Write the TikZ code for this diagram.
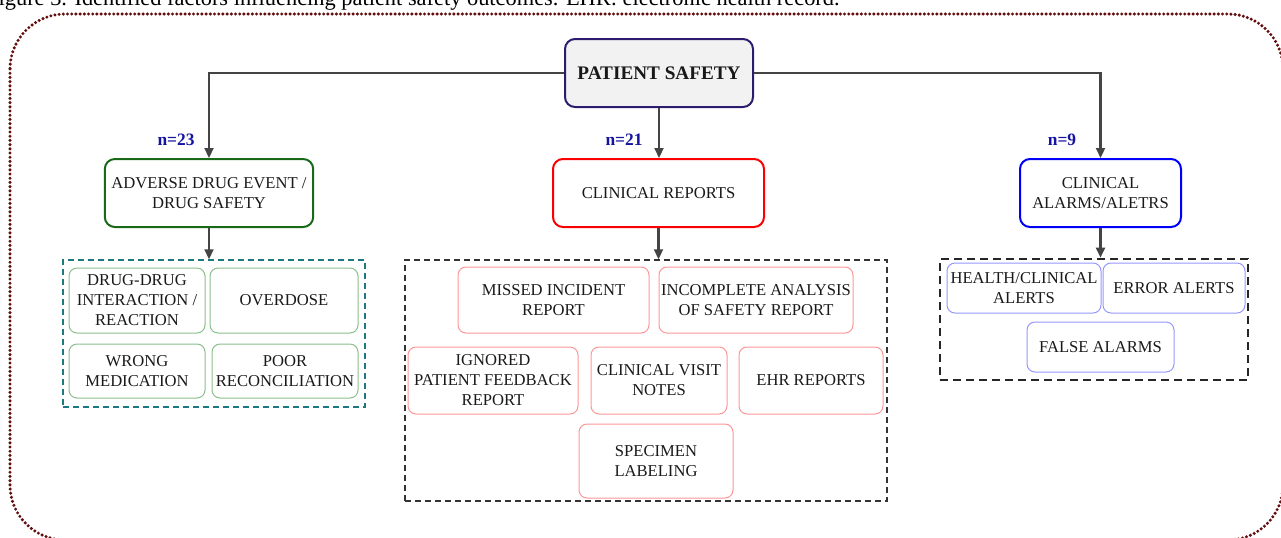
\documentclass[tikz,border=0pt]{standalone}
\usepackage{fontspec}
\setmainfont{Liberation Serif}
\usetikzlibrary{arrows.meta,positioning}

\definecolor{framered}{RGB}{100,15,15}
\definecolor{topline}{RGB}{45,28,110}
\definecolor{topfill}{RGB}{242,242,242}
\definecolor{adegreen}{RGB}{25,105,25}
\definecolor{adelight}{RGB}{140,190,140}
\definecolor{crred}{RGB}{250,0,0}
\definecolor{crlight}{RGB}{255,150,150}
\definecolor{cablue}{RGB}{0,0,250}
\definecolor{calight}{RGB}{150,150,255}
\definecolor{grpteal}{RGB}{30,120,130}
\definecolor{nlabel}{RGB}{20,20,160}
\definecolor{arrowgray}{RGB}{68,68,68}

\begin{document}
\begin{tikzpicture}[x=0.5pt,y=-0.5pt,
  lbl/.style={font=\fontsize{8.3}{10}\selectfont, align=center, text=black!90},
  catbox/.style={lbl, draw, line width=1pt, rounded corners=5pt, minimum height=34pt},
  item/.style={lbl, draw, line width=0.5pt, rounded corners=4pt, inner sep=1pt},
  grp/.style={draw, line width=0.75pt, dash pattern=on 3pt off 2pt},
  count/.style={font=\fontsize{8.7}{10}\selectfont\bfseries, text=nlabel},
  arr/.style={draw=arrowgray, line width=1.1pt, -{Triangle[length=5pt,width=4.5pt]}}]
  \useasboundingbox (0,0) rectangle (1281,537);

  % frame and caption
  \draw[framered, line width=1.7pt, dash pattern=on 0pt off 2.1pt, line cap=round,
    rounded corners=27.5pt] (10,14) rectangle (1283,540);
  \node[anchor=base east, font=\fontsize{11.2}{12}\selectfont, inner sep=0pt] (cap) at (840,5)
    {Figure 3. Identified factors influencing patient safety outcomes. EHR: electronic health record.};

  % main boxes
  \node[catbox, draw=topline, fill=topfill, minimum width=94pt,
    font=\fontsize{9.6}{11}\selectfont\bfseries] (ps) at (659,73) {PATIENT SAFETY};
  \node[catbox, draw=adegreen, minimum width=102pt] (ade) at (209,193) {ADVERSE DRUG EVENT /\\DRUG SAFETY};
  \node[catbox, draw=crred, minimum width=105.5pt] (cr) at (658.5,193) {CLINICAL REPORTS};
  \node[catbox, draw=cablue, minimum width=80.5pt] (ca) at (1100.5,193) {CLINICAL\\ALARMS/ALETRS};

  \node[count] (nade) at (176,140) {n=23};
  \node[count] (ncr) at (624,140) {n=21};
  \node[count] (nca) at (1062,140) {n=9};

  % groups
  \node[grp, draw=grpteal, minimum width=151pt, minimum height=73.5pt] (grpA) at (214,333.5) {};
  \node[grp, draw=black!80, minimum width=241pt, minimum height=120.5pt] (grpB) at (646,380.5) {};
  \node[grp, draw=black!85, line width=1.3pt, dash pattern=on 4pt off 2.5pt,
    minimum width=154pt, minimum height=60.5pt] (grpC) at (1094,319.5) {};

  \node[item, draw=adelight, minimum width=68pt, minimum height=32.5pt] (a1) at (137,300.5) {DRUG-DRUG\\INTERACTION /\\REACTION};
  \node[item, draw=adelight, minimum width=74pt, minimum height=32.5pt] (a2) at (284,300.5) {OVERDOSE};
  \node[item, draw=adelight, minimum width=68pt, minimum height=27pt] (a3) at (137,371) {WRONG\\MEDICATION};
  \node[item, draw=adelight, minimum width=73pt, minimum height=27pt] (a4) at (285,371) {POOR\\RECONCILIATION};

  \node[item, draw=crlight, minimum width=95.5pt, minimum height=33pt] (b1) at (553.5,300) {MISSED INCIDENT\\REPORT};
  \node[item, draw=crlight, minimum width=97pt, minimum height=33pt] (b2) at (756,300) {INCOMPLETE ANALYSIS\\OF SAFETY REPORT};
  \node[item, draw=crlight, minimum width=85pt, minimum height=33.5pt] (b3) at (493,380.5) {IGNORED\\PATIENT FEEDBACK\\REPORT};
  \node[item, draw=crlight, minimum width=68pt, minimum height=33.5pt] (b4) at (659,380.5) {CLINICAL VISIT\\NOTES};
  \node[item, draw=crlight, minimum width=72pt, minimum height=33.5pt] (b5) at (811,380.5) {EHR REPORTS};
  \node[item, draw=crlight, minimum width=77pt, minimum height=37pt] (b6) at (656,461) {SPECIMEN\\LABELING};

  \node[item, draw=calight, minimum width=77pt, minimum height=25pt] (c1) at (1024,288) {HEALTH/CLINICAL\\ALERTS};
  \node[item, draw=calight, minimum width=71pt, minimum height=25pt] (c2) at (1174,288) {ERROR ALERTS};
  \node[item, draw=calight, minimum width=73.5pt, minimum height=25pt] (c3) at (1100.5,347) {FALSE ALARMS};

  % connectors
  \draw[arr] (ps.west) -| (ade.north);
  \draw[arr] (ps.east) -| (ca.north);
  \draw[arr] (ps.south) -- (ps.south |- cr.north);
  \draw[arr] (ade.south) -- (ade.south |- grpA.north);
  \draw[arr] (cr.south) -- (cr.south |- grpB.north);
  \draw[arr] (ca.south) -- (ca.south |- grpC.north);
\end{tikzpicture}
\end{document}
